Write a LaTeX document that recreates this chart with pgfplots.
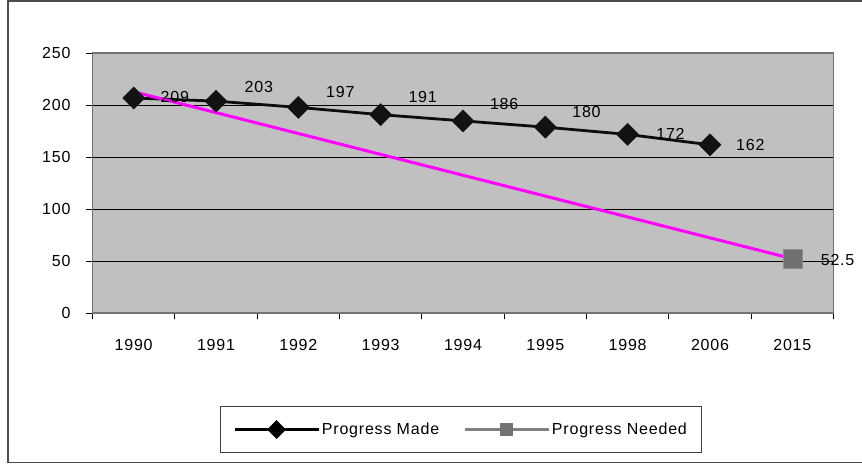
\documentclass[border=0pt]{standalone}
\usepackage{fontspec}
\setmainfont{Liberation Sans}[LetterSpace=5]
\usepackage{pgfplots}
\pgfplotsset{compat=1.18}
\definecolor{plotbg}{HTML}{C0C0C0}
\definecolor{magentaline}{HTML}{FF00FF}
\definecolor{sqgray}{HTML}{707070}
\newcommand\cf{\fontsize{16bp}{19bp}\selectfont}
\begin{document}
\begin{tikzpicture}
\useasboundingbox (-92.5bp,-151.7bp) rectangle (769.5bp,313.3bp);
\draw[black!70, line width=1.2bp] (770.5bp,312.3bp) -- (-84.5bp,312.3bp) -- (-84.5bp,-149.2bp) -- (770.5bp,-149.2bp);
\begin{axis}[
 at={(0,0)}, anchor=south west,
 scale only axis, width=741bp, height=260bp,
 xmin=-0.5, xmax=8.5, ymin=0, ymax=250,
 axis background/.style={fill=plotbg},
 axis line style={draw=black!55, line width=1.8bp},
 ytick={0,50,...,250},
 ymajorgrids, y grid style={black, line width=0.8bp},
 xtick={-0.5,0.5,...,8.5}, xticklabels={},
 extra x ticks={0,1,2,3,4,5,6,7,8},
 extra x tick labels={1990,1991,1992,1993,1994,1995,1998,2006,2015},
 extra x tick style={major tick length=0pt, grid=none, xticklabel style={yshift=-23bp}},
 tick align=outside, major tick length=6bp, tick pos=left,
 tick style={black, line width=0.8bp},
 ticklabel style={font=\cf},
 yticklabel style={xshift=-12.5bp},
 /pgf/number format/assume math mode=true,
 clip=false,
 legend style={at={(0.4973,-0.447)}, anchor=center, legend columns=2, draw=black!75, line width=1bp, font=\cf, inner xsep=13bp, inner ysep=14bp, /tikz/every even column/.append style={column sep=22bp}},
 legend image code/.code={\draw[mark repeat=2,mark phase=2,#1] plot coordinates {(0bp,0bp) (42bp,0bp) (84bp,0bp)};}
]
\addplot[forget plot, color=black!95, line width=2.8bp, mark=square*, mark size=7.8bp, mark options={rotate=45, fill=black!93, draw=black!93, line width=0.5bp}] coordinates {(0,207)(1,204)(2,198)(3,191)(4,185)(5,179)(6,172)(7,162)};
\addplot[forget plot, draw=none, mark=none, nodes near coords, point meta=explicit symbolic, every node near coord/.append style={anchor=center, font=\cf, black, inner sep=0pt}] coordinates {(0.5,208.3)[209] (1.52,217.3)[203] (2.51,213)[197] (3.51,207.7)[191] (4.5,201)[186] (5.5,194)[180] (6.52,172.4)[172] (7.49,161.8)[162] (8.55,51.3)[52.5]};
\addplot[forget plot, color=magentaline, line width=3bp, mark=square*, mark indices={2}, mark size=9.5bp, mark options={fill=sqgray, draw=black!45, line width=0.5bp}] coordinates {(0,213)(8,52.5)};
\addlegendimage{black, line width=2.8bp, mark=square*, mark size=5.3bp, mark options={rotate=45, fill=black}}
\addlegendentry{Progress Made}
\addlegendimage{color=black!50, line width=2.8bp, mark=square*, mark size=5bp, mark options={fill=black!55, draw=black!55}}
\addlegendentry{Progress Needed}
\end{axis}
\end{tikzpicture}
\end{document}
